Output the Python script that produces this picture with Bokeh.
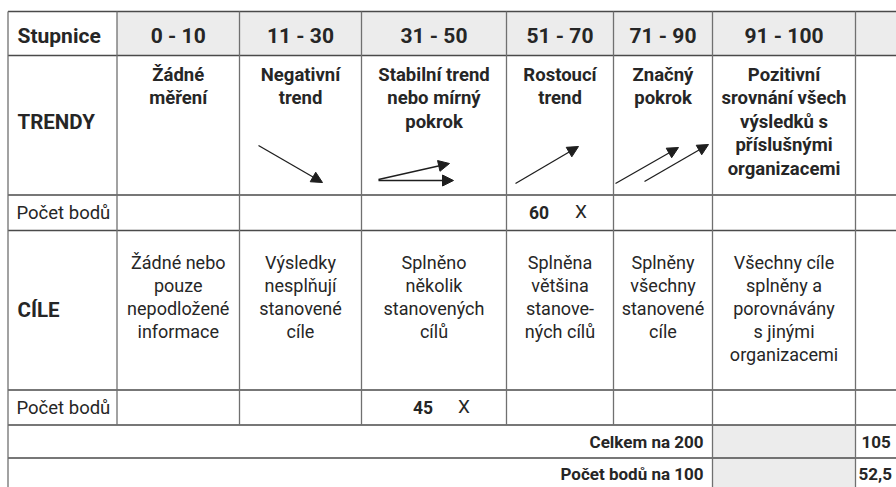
from bokeh.plotting import figure
from bokeh.models import Range1d, Arrow, NormalHead
from bokeh.embed import file_html
from bokeh.resources import INLINE
from bokeh.core.properties import value

# ---------------- data ----------------
scale_label = "Stupnice"
ranges = ["0 - 10", "11 - 30", "31 - 50", "51 - 70", "71 - 90", "91 - 100"]
trend_label = "TRENDY"
trend_desc = [
    "Žádné\nměření",
    "Negativní\ntrend",
    "Stabilní trend\nnebo mírný\npokrok",
    "Rostoucí\ntrend",
    "Značný\npokrok",
    "Pozitivní\nsrovnání všech\nvýsledků s\npříslušnými\norganizacemi",
]
goal_label = "CÍLE"
goal_desc = [
    "Žádné nebo\npouze\nnepodložené\ninformace",
    "Výsledky\nnesplňují\nstanovené\ncíle",
    "Splněno\nněkolik\nstanovených\ncílů",
    "Splněna\nvětšina\nstanove-\nných cílů",
    "Splněny\nvšechny\nstanovené\ncíle",
    "Všechny cíle\nsplněny a\nporovnávány\ns jinými\norganizacemi",
]
points_label = "Počet bodů"
trend_points = 60
trend_points_col = 3
goal_points = 45
goal_points_col = 2
mark = "X"
total_label = "Celkem na 200"
total_value = 105
score_label = "Počet bodů na 100"
score_value = 52.5

# ---------------- layout (page pixels) ----------------
W, H = 896, 487
X0 = 0
col_edges = [116.5, 239, 361, 506, 613, 712, 855]
left_edge = 7.5
right_edge = 900
row_edges = [11, 55, 194.5, 230, 389.5, 424.5, 457.5, 491]

FONT = "Roboto"
TXT = "#262626"
GRAY = "#ececec"
HLINE = "#4a4a4a"
VLINE = "#707070"

p = figure(width=W, height=H, x_range=Range1d(X0, X0 + W), y_range=Range1d(X0 + H, X0),
           output_backend="svg", toolbar_location=None,
           x_axis_type=None, y_axis_type=None, min_border=0)
p.grid.visible = False
p.outline_line_color = None
p.background_fill_color = "white"
p.border_fill_color = "white"

# backgrounds
p.quad(left=[col_edges[0], col_edges[5]], right=[right_edge, col_edges[6]],
       top=[row_edges[0], row_edges[5]], bottom=[row_edges[1], row_edges[7]],
       fill_color=GRAY, line_color=None)

# horizontal lines
p.segment(x0=[left_edge] * len(row_edges), x1=[right_edge] * len(row_edges),
          y0=row_edges, y1=row_edges, line_color=HLINE, line_width=1.5)
# vertical lines
vx0, vy0, vy1 = [left_edge], [row_edges[0]], [row_edges[7]]
for i, cx in enumerate(col_edges):
    vx0.append(cx)
    vy0.append(row_edges[0])
    if i in (5, 6):
        vy1.append(row_edges[7])
    else:
        vy1.append(row_edges[5])
p.segment(x0=vx0, x1=vx0, y0=vy0, y1=vy1, line_color=VLINE, line_width=1.3)

centers = [(col_edges[i] + col_edges[i + 1]) / 2 for i in range(6)]


def put(xs, ys, texts, size, bold=False, align="center"):
    p.text(x=xs, y=ys, text=texts, text_font=value(FONT),
           text_font_size=f"{size}px", text_font_style="bold" if bold else "normal",
           text_align=align, text_baseline="middle", text_color=TXT)


# header row
put([17], [35], [scale_label], 21, bold=True, align="left")
put(centers, [35] * 6, ranges, 21, bold=True)

# trend row
put([17], [121], [trend_label], 20.5, bold=True, align="left")
tx, ty, tt = [], [], []
for c, s in zip(centers, trend_desc):
    for k, line in enumerate(s.split("\n")):
        tx.append(c); ty.append(74 + 23.5 * k); tt.append(line)
put(tx, ty, tt, 18.5, bold=True)

# goal row
put([17], [309], [goal_label], 20.5, bold=True, align="left")
gx, gy, gt = [], [], []
for c, s in zip(centers, goal_desc):
    for k, line in enumerate(s.split("\n")):
        gx.append(c); gy.append(262 + 23 * k); gt.append(line)
put(gx, gy, gt, 18)

# points rows
put([16, 16], [212, 407], [points_label, points_label], 18.5, align="left")
put([centers[trend_points_col] - 21, centers[goal_points_col] - 11],
    [212, 407], [str(trend_points), str(goal_points)], 17.5, bold=True)
put([centers[trend_points_col] + 21, centers[goal_points_col] + 30],
    [211, 406], [mark, mark], 19)

# totals
put([703, 703], [441, 473], [total_label, score_label], 17, bold=True, align="right")
put([861, 858], [441, 473], [str(total_value), f"{score_value:.1f}".replace(".", ",")],
    17, bold=True, align="left")

# trend arrows (icons, relative to column left edge)
arrow_icons = {
    1: [(19, 145, 83, 182)],
    2: [(17, 179, 88, 163), (17, 180, 92, 180)],
    3: [(9, 183, 72, 146)],
    4: [(2, 183, 65, 147), (31, 181, 95, 144)],
}
for col, arrs in arrow_icons.items():
    left = col_edges[col]
    for (a, b, c, d) in arrs:
        p.add_layout(Arrow(end=NormalHead(size=11, fill_color="#1e1e1e", line_color="#1e1e1e", line_width=1),
                           x_start=left + a, y_start=b, x_end=left + c, y_end=d,
                           line_color="#1e1e1e", line_width=1.3))

open("out.html", "w").write(file_html(p, INLINE))
